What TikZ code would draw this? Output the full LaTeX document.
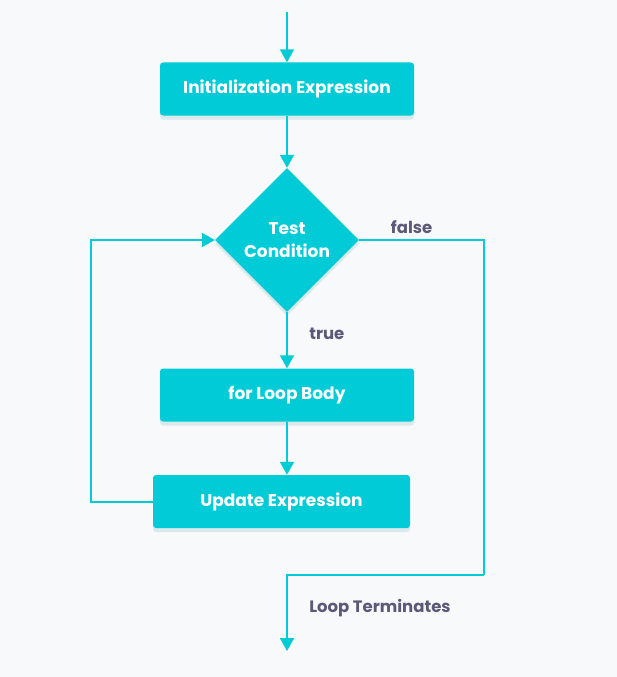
\documentclass[tikz,border=0pt]{standalone}
\usepackage{fontspec}
\setmainfont{Poppins}
\usepackage{xcolor}
\usetikzlibrary{shapes.geometric, arrows.meta, positioning, shadows}

\definecolor{teal1}{RGB}{0,203,214}
\definecolor{labelgray}{RGB}{90,90,120}
\definecolor{bgpaper}{RGB}{248,249,251}

\begin{document}
\begin{tikzpicture}[x=1pt, y=-1pt,
    stepbox/.style={rectangle, rounded corners=3pt, minimum width=254pt, minimum height=53pt, text centered, fill=teal1, text=white, font=\fontsize{17}{20}\selectfont\bfseries, drop shadow={shadow xshift=0pt, shadow yshift=-4pt, opacity=0.12, fill=teal1!60!black}},
    decision/.style={diamond, aspect=1, inner sep=0pt, minimum width=144pt, minimum height=144pt, text centered, align=center, fill=teal1, text=white, font=\fontsize{17}{23}\selectfont\bfseries, drop shadow={shadow xshift=0pt, shadow yshift=-4pt, opacity=0.12, fill=teal1!60!black}},
    lbl/.style={text=labelgray, font=\fontsize{16.5}{20}\selectfont\bfseries},
    arrow/.style={line width=2pt, draw=teal1, -{Triangle[width=14pt,length=13pt]}},
    link/.style={line width=2pt, draw=teal1}]

\useasboundingbox[fill=bgpaper] (0,0) rectangle (617,677);

\coordinate (start) at (287,12);
\node (init) [stepbox] at (287,89) {Initialization Expression};
\node (test) [decision] at (287,240) {Test\\Condition};
\node (body) [stepbox] at (287,395) {for Loop Body};
\node (update) [stepbox, minimum width=257pt] at (281.5,501.5) {Update Expression};
\coordinate (loopleft) at (91,240);
\coordinate (falseright) at (484,575);
\coordinate (finish) at (287,651);

\draw [arrow] (start) -- (init);
\draw [arrow] (init) -- (test);
\draw [arrow] (test) -- node[lbl, anchor=west, xshift=18pt, pos=0.38] {true} (body);
\draw [arrow] (body.south) -- (body.south |- update.north);
\draw [arrow] (update.west) -| (loopleft) -- (test.west);
\draw [link] (test.east) -| node[lbl, anchor=south, pos=0.21, yshift=2pt] {false} (falseright);
\draw [arrow] (falseright) -| node[lbl, anchor=west, pos=0.72, xshift=18pt] {Loop Terminates} (finish);

\end{tikzpicture}
\end{document}
